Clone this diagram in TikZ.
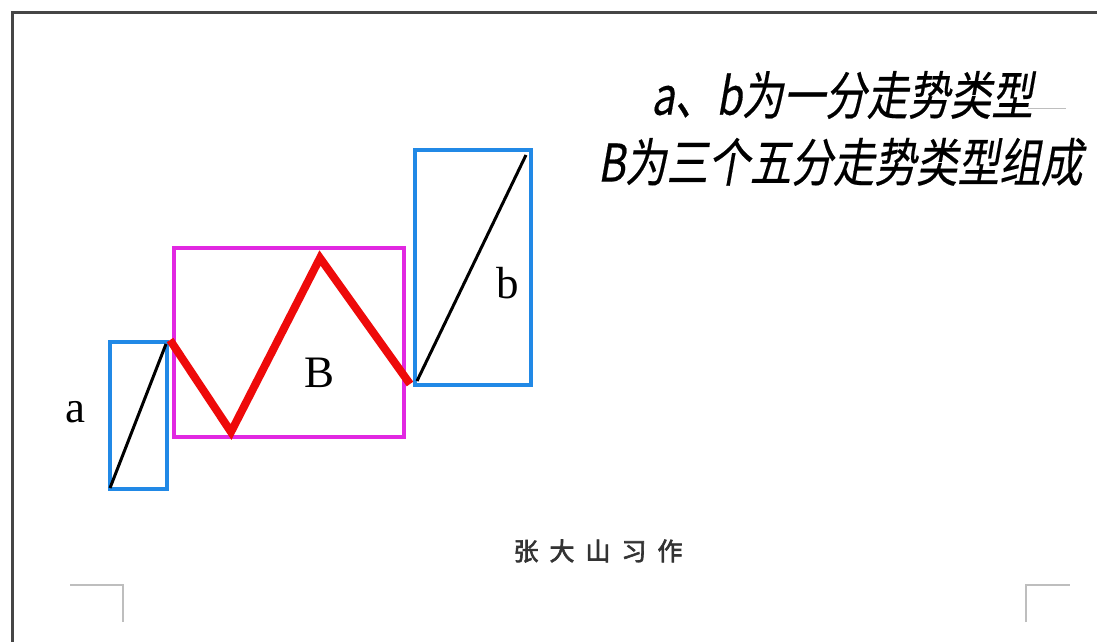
\documentclass[tikz,border=0pt]{standalone}
\usepackage{fontspec}
\setmainfont{Liberation Serif}
\newfontfamily\cjktitle[FakeSlant=0.22,FakeBold=0.35]{Noto Sans CJK SC}
\newfontfamily\cjkbold[FakeBold=2.5]{Noto Sans CJK SC}
\definecolor{boxblue}{RGB}{33,137,230}
\definecolor{boxmag}{RGB}{225,40,225}
\definecolor{zigred}{RGB}{238,10,10}
\definecolor{framegray}{RGB}{70,70,70}
\definecolor{markgray}{RGB}{190,190,190}
\begin{document}
\begin{tikzpicture}[x=1pt,y=-1pt,
  bluebox/.style={draw=boxblue,line width=3.6pt},
  magbox/.style={draw=boxmag,line width=3.4pt},
  trendline/.style={draw=black,line width=3pt},
  zigzag/.style={draw=zigred,line width=8pt},
  biglabel/.style={font=\fontsize{45}{45}\selectfont,inner sep=0pt},
  titletext/.style={font=\fontsize{52}{56}\selectfont\cjktitle,inner sep=0pt,xscale=0.8,transform shape},
  cornermark/.style={draw=markgray,line width=1.5pt}]
\useasboundingbox (0,0) rectangle (1097,642);
\fill[white] (0,0) rectangle (1097,642);
% frame
\draw[draw=framegray,line width=3pt] (12,642) -- (12,13) -- (1097,13);
% boxes
\draw[bluebox] (110,342) rectangle (167,489);
\draw[magbox] (174,248) rectangle (404,437);
\draw[bluebox] (415,150) rectangle (531,385);
% trend lines
\coordinate (a0) at (110,488);
\coordinate (a1) at (166,344);
\draw[trendline] (a0) -- (a1);
\coordinate (z0) at (170,340);
\coordinate (z1) at (231,432);
\coordinate (z2) at (320,258);
\coordinate (z3) at (410,384);
\draw[zigzag] (z0) -- (z1) -- (z2) -- (z3);
\coordinate (b0) at (417,381);
\coordinate (b1) at (526,155);
\draw[trendline] (b0) -- (b1);
% labels
\node[biglabel] (la) at (75,412) {a};
\node[biglabel] (lB) at (320,373) {B};
\node[biglabel] (lb) at (508,283) {b};
% title
\node[titletext] (t1) at (842,95) {a、b为一分走势类型};
\node[titletext] (t2) at (840,162) {B为三个五分走势类型组成};
\draw[draw=markgray,line width=1pt] (1028,108) -- (1066,108);
% signature
\node[font=\fontsize{25}{25}\selectfont\cjkbold,text=black!80,inner sep=0pt] (sig) at (598,551) {张\kern11pt 大\kern11pt 山\kern11pt 习\kern11pt 作};
% corner marks
\draw[cornermark] (70,585) -- (123,585) -- (123,622);
\draw[cornermark] (1026,622) -- (1026,585) -- (1070,585);
\end{tikzpicture}
\end{document}
